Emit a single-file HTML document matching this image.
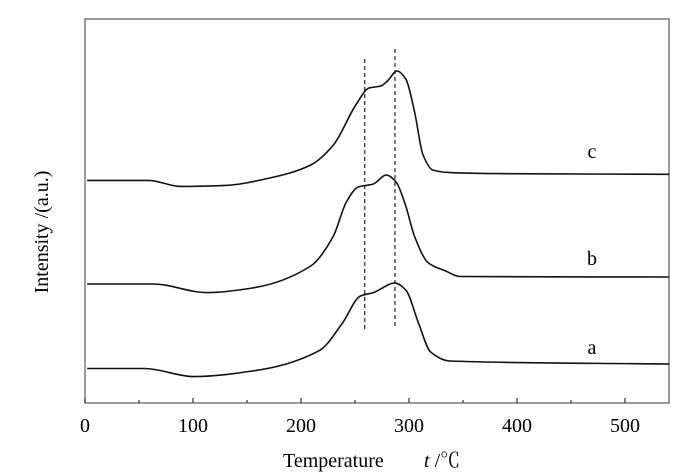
<!DOCTYPE html>
<html><head><meta charset="utf-8"><style>
html,body{margin:0;padding:0;background:#fff;}
svg{display:block;font-family:"Liberation Serif","Noto Serif CJK SC",serif;}
</style></head><body>
<svg id="chart" width="700" height="472" viewBox="0 0 700 472" xmlns="http://www.w3.org/2000/svg">
<rect x="85" y="19" width="584" height="384" fill="none" stroke="#666" stroke-width="1.3"/>
<g id="ticks"></g>
<g id="curves"></g>
<text transform="translate(48,232) rotate(-90)" text-anchor="middle" font-size="20">Intensity /(a.u.)</text>
<text x="283" y="467" font-size="20">Temperature</text>
<text x="424" y="467" font-size="20"><tspan font-style="italic">t</tspan> /℃</text>
</svg>
<script>
const xTicks=[0,100,200,300,400,500];
const minorTicks=[50,150,250,350,450];
const tA=[2,55,101,155,217,238,255,267,287,297,309,320,338,541];
const yA=[368.5,368.5,376.6,371,350.6,323.7,296,292.6,283,290,323.7,352,361,364];
const tB=[2,63,113,155,209,230,242,253,267,279,288,297,305,318,334,347,541];
const yB=[284,284,292.6,288,266,236,202,187,184,175,182,206,236,263,271,276.5,277];
const tC=[2,59,88,130,171,209,230,251,263,274,280,289,297,305,313,322,338,380,541];
const yC=[180.4,180.4,186.4,185.4,178,165,145,104.5,88,86,81,71,79,111,155,170,172.6,173.6,174.3];
const labels=["a","b","c"];
const labelY=[354,265,158];
const dashT=[259,287];
const dashTop=[59,49];
const dashBot=[329,326];
const NS="http://www.w3.org/2000/svg";
function xs(t){return 85+t*1.08;}
const tk=document.getElementById('ticks');
xTicks.forEach(v=>{
 const l=document.createElementNS(NS,'line');
 
 
 l.setAttribute('x1',xs(v));l.setAttribute('x2',xs(v));l.setAttribute('y1',403);l.setAttribute('y2',398);
 l.setAttribute('stroke','#333');l.setAttribute('stroke-width','1.2');tk.appendChild(l);
 const tx=document.createElementNS(NS,'text');
 
 
 tx.setAttribute('x',xs(v));tx.setAttribute('y',432);tx.setAttribute('text-anchor','middle');tx.setAttribute('font-size','20');
 tx.textContent=v;tk.appendChild(tx);
});
minorTicks.forEach(v=>{
 const l=document.createElementNS(NS,'line');
 
 
 l.setAttribute('x1',xs(v));l.setAttribute('x2',xs(v));l.setAttribute('y1',403);l.setAttribute('y2',400);
 l.setAttribute('stroke','#333');l.setAttribute('stroke-width','1.2');tk.appendChild(l);
});
function monoPath(px,py){
 const n=px.length,d=[],m=new Array(n);
 for(let i=0;i<n-1;i++)d.push((py[i+1]-py[i])/(px[i+1]-px[i]));
 m[0]=d[0];m[n-1]=d[n-2];
 for(let i=1;i<n-1;i++){
  if(d[i-1]*d[i]<=0)m[i]=0;
  else{const w1=2*(px[i+1]-px[i])+(px[i]-px[i-1]),w2=(px[i+1]-px[i])+2*(px[i]-px[i-1]);
   m[i]=(w1+w2)/(w1/d[i-1]+w2/d[i]);}
 }
 let s='M'+px[0]+','+py[0];
 for(let i=0;i<n-1;i++){
  const h=(px[i+1]-px[i])/3;
  s+=' C'+(px[i]+h)+','+(py[i]+m[i]*h)+' '+(px[i+1]-h)+','+(py[i+1]-m[i+1]*h)+' '+px[i+1]+','+py[i+1];
 }
 return s;
}
const cg=document.getElementById('curves');
[[tA,yA],[tB,yB],[tC,yC]].forEach((s,i)=>{
 const p=document.createElementNS(NS,'path');
 
 
 p.setAttribute('d',monoPath(s[0].map(xs),s[1]));p.setAttribute('fill','none');p.setAttribute('stroke','#111');p.setAttribute('stroke-width','1.6');
 cg.appendChild(p);
 const tx=document.createElementNS(NS,'text');
 
 
 tx.setAttribute('x',592);tx.setAttribute('y',labelY[i]);tx.setAttribute('text-anchor','middle');tx.setAttribute('font-size','20');
 tx.textContent=labels[i];cg.appendChild(tx);
});
dashT.forEach((t,i)=>{
 const l=document.createElementNS(NS,'line');
 
 
 l.setAttribute('x1',xs(t));l.setAttribute('x2',xs(t));l.setAttribute('y1',dashTop[i]);l.setAttribute('y2',dashBot[i]);
 l.setAttribute('stroke','#111');l.setAttribute('stroke-width','1.1');l.setAttribute('stroke-dasharray','4,3');
 cg.appendChild(l);
});
</script>
</body></html>
